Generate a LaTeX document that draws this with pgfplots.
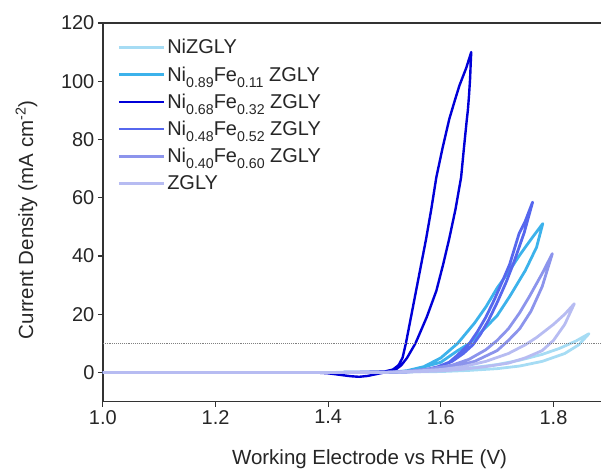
\documentclass[border=0pt]{standalone}
\usepackage{pgfplots}
\pgfplotsset{compat=1.18}
\usepackage{fontspec}
\setmainfont{Liberation Sans}
\definecolor{cA}{HTML}{A6DCF4}
\definecolor{cB}{HTML}{3CB2EB}
\definecolor{cC}{HTML}{0000D8}
\definecolor{cD}{HTML}{5667EE}
\definecolor{cE}{HTML}{8C94EC}
\definecolor{cF}{HTML}{B7BCF2}
\definecolor{axc}{HTML}{333333}
\newcommand{\sub}[1]{\raisebox{-0.3em}{\fontsize{14.2}{16}\selectfont #1}}
\begin{document}
\begin{tikzpicture}
\begin{axis}[
  scale only axis, width=499pt, height=379pt,
  xmin=1.0, xmax=1.885, ymin=-10, ymax=120,
  xtick={1.0,1.2,1.4,1.6,1.8},
  ytick={0,20,40,60,80,100,120},
  xticklabel style={/pgf/number format/.cd, fixed, fixed zerofill, precision=1},
  /pgf/number format/assume math mode=true,
  axis x line*=bottom, axis y line*=left,
  axis line style={-, axc, line width=1.3pt},
  tick style={axc, line width=1.2pt},
  tick align=outside, major tick length=5pt,
  ticklabel style={font=\fontsize{20}{24}\selectfont, text=black!85},
  label style={font=\fontsize{20.5}{24}\selectfont, text=black!85},
  xlabel={Working Electrode vs RHE (V)},
  ylabel={Current Density (mA cm\textsuperscript{-2})},
  xlabel style={at={(axis description cs:0.535,-0.166)}, anchor=base},
  ylabel style={at={(axis description cs:-0.140,0.48)}, anchor=base},
  clip=false,
  legend style={draw=none, fill=none, at={(0.025,0.968)}, anchor=north west,
    font=\fontsize{20}{24}\selectfont, text=black!85, row sep=7.3pt,
    inner xsep=2pt},
  legend cell align=left,
  legend image code/.code={\draw[#1] (0pt,0pt) -- (45pt,0pt);},
]
\draw[axc, line width=1.3pt] (rel axis cs:0,1) -- (rel axis cs:1,1);
\path (rel axis cs:0,0) ++(-103pt,-68pt);
\path (rel axis cs:1,1) ++(0pt,23pt);

% NiZGLY
\addplot[cA, line width=2.8pt, line join=round] coordinates {
(1.0,0) (1.2,0) (1.4,0) (1.5,0.1) (1.55,0.2) (1.60,0.3) (1.65,0.7) (1.70,1.3) (1.74,2.2) (1.78,3.8) (1.82,6.5) (1.845,9.5) (1.863,13.3)
(1.84,10.8) (1.81,8.2) (1.78,6.2) (1.74,4.2) (1.70,2.7) (1.65,1.5) (1.60,0.7) (1.55,0.3) (1.5,0.1) (1.4,0) (1.2,0) (1.0,0)};
\addlegendentry{NiZGLY}
% Ni0.89Fe0.11
\addplot[cB, line width=2.8pt, line join=round] coordinates {
(1.0,0) (1.2,0) (1.4,0) (1.5,0.05) (1.52,0.2) (1.54,0.6) (1.57,2) (1.60,5) (1.63,10) (1.66,17) (1.68,22.5) (1.70,29) (1.722,35) (1.739,40) (1.75,43) (1.765,47) (1.781,51.1)
(1.77,43) (1.75,35) (1.722,26) (1.70,19.5) (1.68,15.5) (1.651,10) (1.63,7.5) (1.60,3.5) (1.55,0.8) (1.52,0.1) (1.5,0) (1.4,0) (1.2,0) (1.0,0)};
\addlegendentry{Ni\sub{0.89}Fe\sub{0.11} ZGLY}
% Ni0.68Fe0.32
\addplot[cC, line width=2.4pt, line join=round] coordinates {
(1.0,0) (1.2,0) (1.4,0) (1.45,0.05) (1.5,0.3) (1.515,1) (1.525,2.5) (1.532,5) (1.538,10) (1.547,19) (1.556,28) (1.565,37) (1.574,46) (1.583,56) (1.592,67) (1.603,77) (1.615,87) (1.625,93.5) (1.633,98.5) (1.645,104.5) (1.654,110)
(1.653,106) (1.652,101) (1.650,95) (1.648,90) (1.646,86.6) (1.641,77) (1.636,67) (1.626,56) (1.615,46) (1.604,37) (1.592,28) (1.575,19) (1.555,10) (1.54,5) (1.53,2.5) (1.52,1) (1.505,0.2) (1.49,-0.4) (1.47,-1.2) (1.455,-1.5) (1.44,-1.3) (1.42,-0.8) (1.40,-0.3) (1.38,-0.05) (1.35,0) (1.2,0) (1.0,0)};
\addlegendentry{Ni\sub{0.68}Fe\sub{0.32} ZGLY}
% Ni0.48Fe0.52
\addplot[cD, line width=2.8pt, line join=round] coordinates {
(1.0,0) (1.2,0) (1.4,0) (1.5,0.05) (1.53,0.2) (1.56,0.6) (1.59,1.6) (1.615,3.5) (1.63,6) (1.651,10) (1.665,14) (1.68,19) (1.695,25) (1.710,31.6) (1.722,37) (1.739,47.7) (1.75,52) (1.763,58.5)
(1.748,48) (1.73,38) (1.716,31) (1.70,24) (1.685,18) (1.67,13) (1.657,9.5) (1.64,6.5) (1.62,3.8) (1.60,2.2) (1.57,0.8) (1.54,0.2) (1.5,0) (1.4,0) (1.2,0) (1.0,0)};
\addlegendentry{Ni\sub{0.48}Fe\sub{0.52} ZGLY}
% Ni0.40Fe0.60
\addplot[cE, line width=2.8pt, line join=round] coordinates {
(1.0,0) (1.2,0) (1.4,0) (1.5,0.05) (1.54,0.4) (1.58,1.2) (1.62,2.5) (1.65,4.5) (1.68,7.8) (1.70,11) (1.72,15) (1.74,20.5) (1.757,26) (1.78,34) (1.798,40.8)
(1.78,29.5) (1.76,21) (1.74,15) (1.72,11) (1.70,7.5) (1.66,3.8) (1.62,1.8) (1.58,0.8) (1.54,0.2) (1.5,0) (1.4,0) (1.2,0) (1.0,0)};
\addlegendentry{Ni\sub{0.40}Fe\sub{0.60} ZGLY}
% ZGLY
\addplot[cF, line width=2.8pt, line join=round] coordinates {
(1.0,0) (1.2,0) (1.4,0) (1.5,0.05) (1.55,0.4) (1.60,1) (1.64,2) (1.68,3.8) (1.72,6.5) (1.75,9.5) (1.77,12) (1.80,16.5) (1.82,20) (1.837,23.6)
(1.82,16.5) (1.80,11) (1.78,7.5) (1.75,5) (1.72,3.2) (1.68,2) (1.64,1.1) (1.60,0.5) (1.55,0.2) (1.5,0) (1.4,0) (1.2,0) (1.0,0)};
\addlegendentry{ZGLY}
% 10 mA line
\addplot[gray, densely dotted, line width=0.9pt, forget plot] coordinates {(1.0,10) (1.885,10)};
\end{axis}
\end{tikzpicture}
\end{document}
